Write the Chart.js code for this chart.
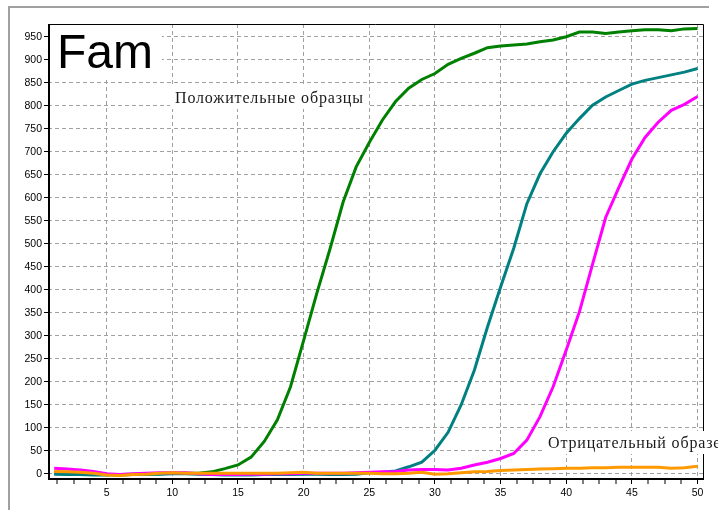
<!DOCTYPE html>
<html>
<head>
<meta charset="utf-8">
<script src="https://cdn.jsdelivr.net/npm/chart.js@4/dist/chart.umd.min.js"></script>
<style>
  html, body { margin: 0; padding: 0; background: #fff; }
  #wrap { width: 718px; height: 510px; }
</style>
</head>
<body>
<div id="wrap"><canvas id="pcrChart" width="718" height="510"></canvas></div>
<script>
// cycles 1..50
const cycles = [1,2,3,4,5,6,7,8,9,10,11,12,13,14,15,16,17,18,19,20,21,22,23,24,25,
                26,27,28,29,30,31,32,33,34,35,36,37,38,39,40,41,42,43,44,45,46,47,48,49,50];

const positiveGreen = [3,2,1,0,-2,-3,-2,-1,0,1,1,1,4,11,19,36,70,117,189,290,
                       392,488,590,667,720,769,809,838,857,870,890,903,914,926,930,932,934,939,943,950,
                       960,960,957,960,963,965,965,963,967,968];
const positiveTeal = [-1,-2,-2,-3,-3,-2,-1,-1,-1,0,0,-1,-2,-3,-3,-3,-2,-2,-2,-1,
                      -1,-2,-2,-1,2,3,6,15,25,51,90,150,225,319,406,490,587,652,700,740,
                      772,801,819,833,847,855,861,867,873,881];
const positiveMagenta = [12,10,8,5,0,-2,0,1,2,2,2,0,-2,-2,-2,-1,-1,0,0,1,
                         1,1,1,2,3,4,5,8,9,9,8,12,19,25,33,44,73,124,189,269,
                         352,455,557,622,684,731,764,790,803,820];
const negativeOrange = [5,4,3,1,-3,-4,-2,-1,1,2,1,1,1,1,1,1,1,1,2,3,
                        1,1,1,1,1,0,0,1,3,-1,0,2,4,5,7,8,9,10,11,12,
                        12,13,13,14,14,14,14,12,13,16];

const yTicks = [0,50,100,150,200,250,300,350,400,450,500,550,600,650,700,750,800,850,900,950];
const dyeName = 'Fam';
const positiveLabel = 'Положительные образцы';
const negativeLabel = 'Отрицательный образец';

function toPoints(values) {
    return cycles.map((c, i) => ({ x: c, y: values[i] }));
}

const overlay = {
    id: 'overlay',
    afterDraw(chart) {
        const ctx = chart.ctx;
        const a = chart.chartArea;
        ctx.save();

        // plot frame
        ctx.strokeStyle = '#000';
        ctx.lineWidth = 1;
        ctx.beginPath();
        ctx.moveTo(a.left, a.top + 0.5);
        ctx.lineTo(a.right - 0.5, a.top + 0.5);
        ctx.lineTo(a.right - 0.5, a.bottom);
        ctx.stroke();
        ctx.lineWidth = 2;
        ctx.beginPath();
        ctx.moveTo(a.left + 1, a.top);
        ctx.lineTo(a.left + 1, a.bottom - 1);
        ctx.lineTo(a.right, a.bottom - 1);
        ctx.stroke();

        // outer panel edge
        ctx.strokeStyle = '#a0a0a0';
        ctx.lineWidth = 2;
        ctx.beginPath();
        ctx.moveTo(9, 510);
        ctx.lineTo(9, 7);
        ctx.lineTo(709, 7);
        ctx.stroke();

        // dye name
        ctx.fillStyle = '#fff';
        ctx.fillRect(a.left + 2, a.top + 1, 112, 54);
        ctx.fillStyle = '#000';
        ctx.font = '48px "Liberation Sans", Arial, sans-serif';
        ctx.textBaseline = 'alphabetic';
        ctx.fillText(dyeName, 57, 68);

        // annotations (same font and spacing for both)
        ctx.font = '16px "Liberation Serif", "Times New Roman", serif';
        ctx.letterSpacing = '0px';
        const natural = ctx.measureText(positiveLabel).width;
        const sp = Math.max(0, (188 - natural) / (positiveLabel.length - 1));
        ctx.letterSpacing = sp.toFixed(2) + 'px';
        const drawNote = (text, x, y) => {
            const w = ctx.measureText(text).width;
            ctx.fillStyle = '#fff';
            ctx.fillRect(x - 5, y - 17, w + 8, 23);
            ctx.fillStyle = '#1a1a1a';
            ctx.fillText(text, x, y);
        };
        drawNote(positiveLabel, 175, 103);
        drawNote(negativeLabel, 548, 448);

        ctx.restore();
    }
};

const tickFont = { family: '"Liberation Sans", Arial, sans-serif', size: 10.5 };

new Chart(document.getElementById('pcrChart').getContext('2d'), {
    type: 'line',
    data: {
        datasets: [
            { label: 'neg', data: toPoints(negativeOrange), borderColor: '#ff9900' },
            { label: 'pos3', data: toPoints(positiveMagenta), borderColor: '#ff00ff' },
            { label: 'pos2', data: toPoints(positiveTeal), borderColor: '#008080' },
            { label: 'pos1', data: toPoints(positiveGreen), borderColor: '#008000' }
        ]
    },
    options: {
        responsive: false,
        animation: false,
        parsing: false,
        layout: { padding: { top: 24, right: 14, left: 0, bottom: 0 } },
        elements: {
            line: { borderWidth: 3, tension: 0, fill: false },
            point: { radius: 0 }
        },
        plugins: {
            legend: { display: false },
            tooltip: { enabled: false }
        },
        scales: {
            x: {
                type: 'linear',
                min: 0.53,
                max: 50.49,
                afterBuildTicks(scale) {
                    const t = [];
                    for (let i = 1; i * 1.25 <= 50; i++) t.push({ value: i * 1.25 });
                    scale.ticks = t;
                },
                afterFit(scale) { scale.height = 30; },
                ticks: {
                    autoSkip: false,
                    maxRotation: 0,
                    padding: 3,
                    color: '#000',
                    font: tickFont,
                    callback: (v) => (v % 5 === 0 ? String(v) : '')
                },
                grid: {
                    color: '#a0a0a0',
                    lineWidth: (c) => (c.tick && c.tick.value % 5 === 0 ? 1 : 0),
                    tickWidth: 1,
                    tickColor: '#000',
                    tickLength: 4
                },
                border: { display: false, dash: [4, 3] }
            },
            y: {
                type: 'linear',
                min: -13.7,
                max: 977.6,
                afterBuildTicks(scale) {
                    scale.ticks = yTicks.map(v => ({ value: v }));
                },
                afterFit(scale) { scale.width = 48; },
                ticks: {
                    padding: 2,
                    color: '#000',
                    font: tickFont
                },
                grid: {
                    color: '#a0a0a0',
                    lineWidth: 1,
                    tickWidth: 1,
                    tickColor: '#000',
                    tickLength: 4
                },
                border: { display: false, dash: [4, 3] }
            }
        }
    },
    plugins: [overlay]
});
</script>
</body>
</html>
